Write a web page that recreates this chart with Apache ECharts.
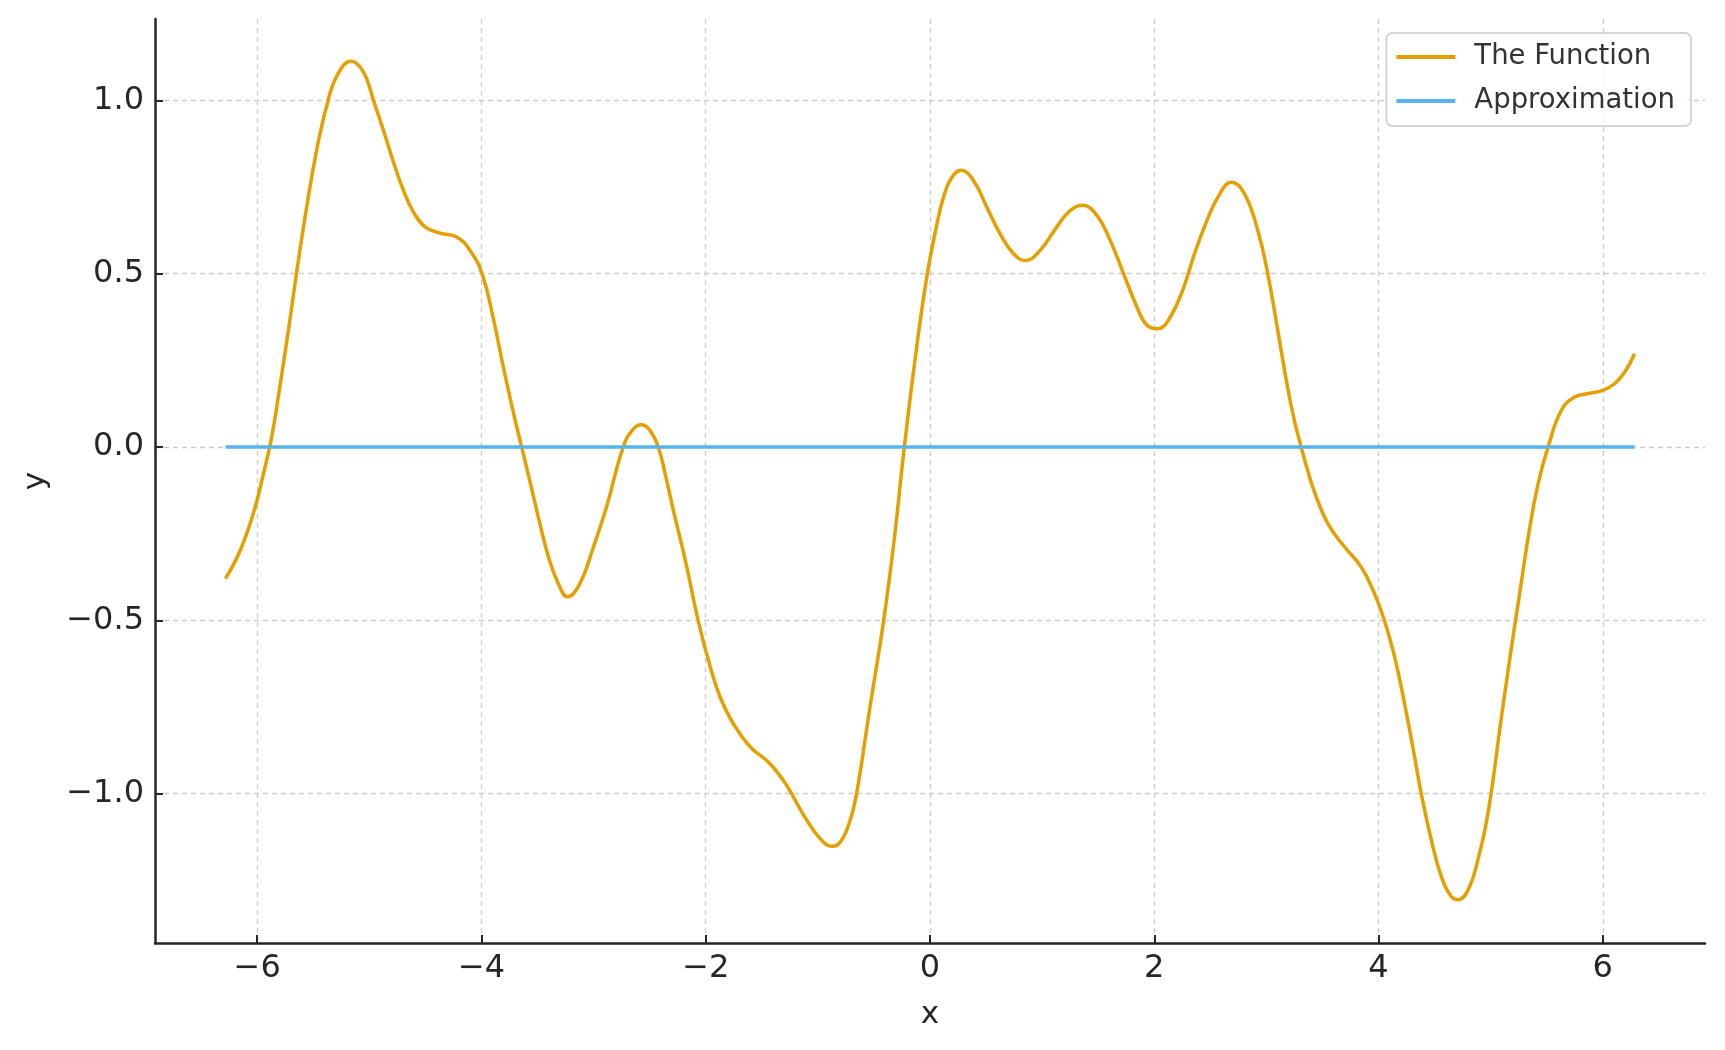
<!DOCTYPE html>
<html>
<head>
<meta charset="utf-8">
<script src="https://cdn.jsdelivr.net/npm/echarts@6/dist/echarts.min.js"></script>
<style>
  html, body { margin: 0; padding: 0; background: #fff; }
  #chart { width: 1725px; height: 1050px; }
</style>
</head>
<body>
<div id="chart"></div>
<script>
// values
const funcX = [
  -6.283, -6.151, -6.033, -5.95, -5.87, -5.80, -5.72, -5.65, -5.56, -5.468, -5.379, -5.29,
  -5.163, -5.053, -4.963, -4.874, -4.785, -4.696, -4.607, -4.503, -4.37, -4.221, -4.102, -3.995,
  -3.894, -3.805, -3.716, -3.642, -3.56, -3.48, -3.40, -3.32, -3.232, -3.122, -3.003, -2.885, -2.736,
  -2.65, -2.573, -2.50, -2.424, -2.36, -2.291, -2.18, -2.068, -1.964, -1.868, -1.756, -1.607, -1.429,
  -1.28, -1.131, -0.982, -0.87, -0.80, -0.72, -0.655, -0.54, -0.413, -0.32, -0.229, -0.119, -0.024,
  0.06, 0.12, 0.19, 0.277, 0.387, 0.506, 0.625, 0.744, 0.848, 0.982, 1.131, 1.25, 1.36,
  1.488, 1.607, 1.726, 1.845, 1.935, 2.03, 2.143, 2.262, 2.351, 2.46, 2.575, 2.69, 2.804, 2.923,
  3.012, 3.101, 3.19, 3.25, 3.31, 3.37, 3.429, 3.548, 3.696, 3.845, 3.964, 4.054, 4.143, 4.232,
  4.321, 4.381, 4.47, 4.56, 4.649, 4.708, 4.798, 4.887, 4.976, 5.10, 5.18, 5.26, 5.34, 5.42, 5.512,
  5.631, 5.75, 5.869, 6.0, 6.107, 6.196, 6.283
];
const funcY = [
  -0.380, -0.298, -0.19, -0.085, 0.03, 0.17, 0.34, 0.5, 0.69, 0.86, 0.985, 1.07,
  1.113, 1.082, 1.0, 0.913, 0.822, 0.74, 0.678, 0.635, 0.617, 0.606, 0.567, 0.5,
  0.37, 0.23, 0.10, 0.0, -0.11, -0.22, -0.32, -0.39, -0.432, -0.394, -0.29, -0.173, 0.0,
  0.05, 0.064, 0.049, 0.0, -0.08, -0.18, -0.33, -0.50, -0.63, -0.725, -0.797, -0.864, -0.913,
  -0.975, -1.06, -1.129, -1.152, -1.14, -1.085, -1.0, -0.76, -0.50, -0.27, 0.0, 0.288, 0.5,
  0.64, 0.72, 0.775, 0.798, 0.769, 0.692, 0.615, 0.558, 0.538, 0.567, 0.635, 0.682, 0.697,
  0.668, 0.596, 0.5, 0.404, 0.351, 0.341, 0.375, 0.46, 0.55, 0.645, 0.725, 0.764, 0.731, 0.625,
  0.5, 0.337, 0.17, 0.075, 0.0, -0.07, -0.13, -0.221, -0.288, -0.346, -0.423, -0.502, -0.605, -0.74,
  -0.893, -1.0, -1.133, -1.239, -1.297, -1.306, -1.278, -1.19, -1.057, -0.77, -0.59, -0.42, -0.25, -0.11, 0.0,
  0.106, 0.144, 0.154, 0.163, 0.183, 0.216, 0.269
];
const approxX = [-6.283, 6.283];
const approxY = [0, 0];
const xTicks = [-6, -4, -2, 0, 2, 4, 6];
const yTicks = [-1.0, -0.5, 0.0, 0.5, 1.0];

const fmt = (v, d) => v.toFixed(d).replace('-', '\u2212');
const font = 'DejaVu Sans';
const axisColor = '#262626';
const gridLine = { show: true, lineStyle: { color: '#cccccc', width: 1.3, type: [5, 4] } };

const chart = echarts.init(document.getElementById('chart'));
chart.setOption({
  animation: false,
  backgroundColor: '#ffffff',
  grid: { left: 155, right: 20, top: 19, bottom: 107 },
  legend: {
    orient: 'vertical',
    right: 34,
    top: 33,
    padding: [10, 16, 11, 10],
    itemWidth: 59,
    itemHeight: 4,
    itemGap: 16,
    backgroundColor: 'rgba(255,255,255,0.8)',
    borderColor: '#d5d5d5',
    borderWidth: 2,
    borderRadius: 6,
    textStyle: { fontFamily: font, fontSize: 27.5, color: '#333333', padding: [0, 0, 0, 14] },
    data: [
      { name: 'The Function', icon: 'rect' },
      { name: 'Approximation', icon: 'rect' }
    ]
  },
  xAxis: {
    type: 'value',
    min: -6.9115,
    max: 6.9115,
    name: 'x',
    nameLocation: 'middle',
    nameGap: 56,
    nameTextStyle: { fontFamily: font, fontSize: 31, color: axisColor },
    axisLine: { show: true, onZero: false, lineStyle: { color: axisColor, width: 2.5 } },
    axisTick: { show: true, inside: true, length: 8, customValues: xTicks, lineStyle: { color: axisColor, width: 2 } },
    axisLabel: {
      customValues: xTicks,
      margin: 10,
      fontFamily: font, fontSize: 32, color: axisColor,
      formatter: v => fmt(v, 0)
    },
    splitLine: gridLine
  },
  yAxis: {
    type: 'value',
    min: -1.431,
    max: 1.2346,
    name: 'y',
    nameLocation: 'middle',
    nameGap: 104,
    nameTextStyle: { fontFamily: font, fontSize: 31, color: axisColor },
    axisLine: { show: true, onZero: false, lineStyle: { color: axisColor, width: 2.5 } },
    axisTick: { show: true, inside: true, length: 8, customValues: yTicks, lineStyle: { color: axisColor, width: 2 } },
    axisLabel: {
      customValues: yTicks,
      margin: 11,
      fontFamily: font, fontSize: 32, color: axisColor,
      formatter: v => fmt(v, 1)
    },
    splitLine: gridLine
  },
  series: [
    {
      name: 'The Function',
      type: 'line',
      data: funcX.map((x, i) => [x, funcY[i]]),
      showSymbol: false,
      symbol: 'none',
      smooth: 0.45,
      color: '#E69F00',
      lineStyle: { width: 3.5, color: '#E69F00' },
      z: 3
    },
    {
      name: 'Approximation',
      type: 'line',
      data: approxX.map((x, i) => [x, approxY[i]]),
      showSymbol: false,
      symbol: 'none',
      color: '#56B4E9',
      lineStyle: { width: 3.5, color: '#56B4E9' },
      z: 4
    }
  ]
});
</script>
</body>
</html>
